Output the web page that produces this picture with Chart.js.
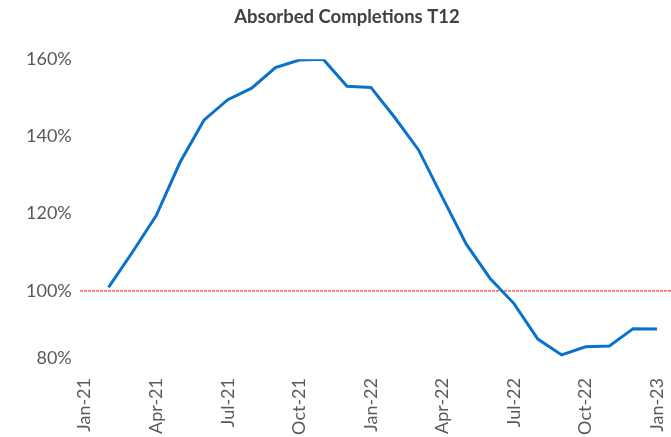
<!DOCTYPE html>
<html>
<head>
<meta charset="utf-8">
<script src="https://cdn.jsdelivr.net/npm/chart.js@4"></script>
<style>
  html, body { margin: 0; padding: 0; background: #fff; }
  #wrap { width: 671px; height: 437px; }
</style>
</head>
<body>
<div id="wrap"><canvas id="chart-absorbed"></canvas></div>
<script>
  // months on the axis (Jan-21 has no value)
  const months = ['Jan-21', 'Feb-21', 'Mar-21', 'Apr-21', 'May-21', 'Jun-21', 'Jul-21', 'Aug-21', 'Sep-21', 'Oct-21', 'Nov-21', 'Dec-21',
    'Jan-22', 'Feb-22', 'Mar-22', 'Apr-22', 'May-22', 'Jun-22', 'Jul-22', 'Aug-22', 'Sep-22', 'Oct-22', 'Nov-22', 'Dec-22', 'Jan-23'];
  const absorbed = [null, 1.009, 1.100, 1.195, 1.333, 1.442, 1.495, 1.525, 1.578, 1.598, 1.600, 1.530,
    1.527, 1.449, 1.365, 1.242, 1.121, 1.032, 0.967, 0.875, 0.834, 0.855, 0.857, 0.902, 0.901];
  const shownMonths = ['Jan-21', 'Apr-21', 'Jul-21', 'Oct-21', 'Jan-22', 'Apr-22', 'Jul-22', 'Oct-22', 'Jan-23'];
  const yTickValues = [0.826, 1.0, 1.2, 1.4, 1.6];
  const yTickLabels = ['80%', '100%', '120%', '140%', '160%'];
  const thresholdValue = 1.0;

  // red dotted reference line across the plot
  const thresholdLine = {
    id: 'thresholdLine',
    beforeDatasetsDraw(chart) {
      const ctx = chart.ctx;
      const area = chart.chartArea;
      const y = chart.scales.y.getPixelForValue(thresholdValue);
      ctx.save();
      ctx.strokeStyle = '#F53C3C';
      ctx.lineWidth = 1.3;
      ctx.setLineDash([3, 1]);
      ctx.beginPath();
      ctx.moveTo(Math.round(area.left) + 7, y);
      ctx.lineTo(chart.width, y);
      ctx.stroke();
      ctx.restore();
    }
  };

  const ctx = document.getElementById('chart-absorbed').getContext('2d');
  new Chart(ctx, {
    type: 'line',
    data: {
      labels: months,
      datasets: [{
        label: 'Absorbed Completions T12',
        data: absorbed,
        borderColor: '#0A72CC',
        borderWidth: 3,
        pointRadius: 0,
        tension: 0,
        fill: false
      }]
    },
    options: {
      responsive: true,
      maintainAspectRatio: false,
      animation: false,
      layout: {
        padding: { left: 25, right: 2, top: 6, bottom: 2 }
      },
      plugins: {
        legend: { display: false },
        tooltip: { enabled: false },
        title: {
          display: true,
          text: 'Absorbed Completions T12',
          color: '#404040',
          font: { family: 'Lato', size: 18.5, weight: 'bold' },
          padding: { top: 0, bottom: 31 }
        }
      },
      scales: {
        x: {
          offset: true,
          grid: { display: false, drawTicks: false },
          border: { display: false },
          afterFit: function (axis) {
            // rotated labels shouldn't push the plot inwards
            axis.paddingLeft = 0;
            axis.paddingRight = 0;
            axis.height = 77;
          },
          ticks: {
            autoSkip: false,
            minRotation: 90,
            maxRotation: 90,
            padding: 20,
            color: '#595959',
            font: { family: 'Lato', size: 18 },
            callback: function (value, index) {
              const m = months[index];
              return shownMonths.includes(m) ? m : '';
            }
          }
        },
        y: {
          min: 0.826,
          max: 1.6,
          grid: { display: false, drawTicks: false },
          border: { display: false },
          afterBuildTicks: function (axis) {
            axis.ticks = yTickValues.map(v => ({ value: v }));
          },
          ticks: {
            padding: 1,
            color: '#595959',
            font: { family: 'Lato', size: 18 },
            callback: function (value, index) {
              return yTickLabels[index];
            }
          }
        }
      }
    },
    plugins: [thresholdLine]
  });
</script>
</body>
</html>
